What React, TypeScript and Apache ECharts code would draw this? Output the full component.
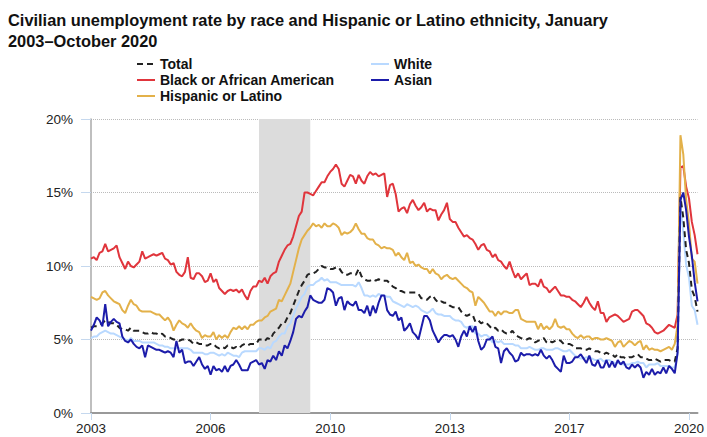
import React, { useEffect, useRef } from "react";
import * as echarts from "echarts";

// Monthly values, January 2003 – October 2020 (percent)
const total = [
  5.8, 5.9, 5.9, 6.0, 6.1, 6.3, 6.2, 6.1, 6.1, 6.0, 5.8, 5.7,
  5.7, 5.6, 5.8, 5.6, 5.6, 5.6, 5.5, 5.4, 5.4, 5.5, 5.4, 5.4,
  5.3, 5.4, 5.2, 5.2, 5.1, 5.0, 5.0, 4.9, 5.0, 5.0, 5.0, 4.9,
  4.7, 4.8, 4.7, 4.7, 4.6, 4.6, 4.7, 4.7, 4.5, 4.4, 4.5, 4.4,
  4.6, 4.5, 4.4, 4.5, 4.4, 4.6, 4.7, 4.6, 4.7, 4.7, 4.7, 5.0,
  5.0, 4.9, 5.1, 5.0, 5.4, 5.6, 5.8, 6.1, 6.1, 6.5, 6.8, 7.3,
  7.8, 8.3, 8.7, 9.0, 9.4, 9.5, 9.5, 9.6, 9.8, 10.0, 9.9, 9.9,
  9.8, 9.8, 9.9, 9.9, 9.6, 9.4, 9.4, 9.5, 9.5, 9.4, 9.8, 9.3,
  9.1, 9.0, 9.0, 9.1, 9.0, 9.1, 9.0, 9.0, 9.0, 8.8, 8.6, 8.5,
  8.3, 8.3, 8.2, 8.2, 8.2, 8.2, 8.2, 8.1, 7.8, 7.8, 7.7, 7.9,
  8.0, 7.7, 7.5, 7.6, 7.5, 7.5, 7.3, 7.2, 7.2, 7.2, 6.9, 6.7,
  6.6, 6.7, 6.7, 6.2, 6.3, 6.1, 6.2, 6.1, 5.9, 5.7, 5.8, 5.6,
  5.7, 5.5, 5.4, 5.4, 5.6, 5.3, 5.2, 5.1, 5.0, 5.0, 5.1, 5.0,
  4.8, 4.9, 5.0, 5.1, 4.8, 4.9, 4.8, 4.9, 5.0, 4.9, 4.7, 4.7,
  4.7, 4.6, 4.4, 4.4, 4.4, 4.3, 4.3, 4.4, 4.3, 4.2, 4.2, 4.1,
  4.0, 4.1, 4.0, 4.0, 3.8, 4.0, 3.8, 3.8, 3.7, 3.8, 3.8, 3.9,
  4.0, 3.8, 3.8, 3.7, 3.6, 3.6, 3.7, 3.6, 3.5, 3.6, 3.6, 3.6,
  3.5, 3.5, 4.4, 14.7, 13.3, 11.1, 10.2, 8.4, 7.9, 6.9,
];

const white = [
  5.1, 5.2, 5.2, 5.4, 5.5, 5.6, 5.5, 5.4, 5.4, 5.3, 5.2, 5.1,
  5.0, 4.9, 5.1, 4.9, 4.9, 4.9, 4.8, 4.8, 4.8, 4.8, 4.8, 4.7,
  4.6, 4.6, 4.5, 4.5, 4.4, 4.4, 4.4, 4.4, 4.4, 4.4, 4.4, 4.3,
  4.1, 4.1, 4.1, 4.1, 4.0, 4.0, 4.1, 4.1, 4.0, 3.9, 4.0, 3.9,
  4.1, 4.0, 3.9, 3.9, 3.8, 4.1, 4.2, 4.2, 4.2, 4.2, 4.2, 4.4,
  4.4, 4.3, 4.5, 4.4, 4.8, 4.9, 5.2, 5.4, 5.4, 5.9, 6.1, 6.6,
  7.1, 7.5, 7.9, 8.1, 8.6, 8.7, 8.7, 8.9, 9.0, 9.2, 9.0, 9.1,
  8.9, 8.9, 8.9, 8.8, 8.7, 8.7, 8.7, 8.7, 8.7, 8.6, 8.9, 8.5,
  8.0, 8.0, 7.9, 8.0, 7.9, 8.1, 8.0, 8.0, 7.9, 7.9, 7.6, 7.5,
  7.4, 7.3, 7.2, 7.4, 7.3, 7.2, 7.3, 7.2, 7.0, 6.9, 6.8, 6.9,
  7.1, 6.8, 6.7, 6.7, 6.6, 6.6, 6.6, 6.4, 6.3, 6.3, 6.2, 5.9,
  5.8, 5.9, 5.9, 5.4, 5.4, 5.2, 5.3, 5.3, 5.1, 4.8, 4.9, 4.8,
  4.9, 4.7, 4.7, 4.7, 4.7, 4.6, 4.6, 4.4, 4.4, 4.4, 4.5, 4.4,
  4.3, 4.3, 4.4, 4.4, 4.3, 4.3, 4.3, 4.4, 4.4, 4.3, 4.2, 4.2,
  4.3, 4.1, 3.9, 3.8, 3.7, 3.7, 3.8, 3.8, 3.7, 3.6, 3.6, 3.7,
  3.5, 3.6, 3.6, 3.5, 3.4, 3.4, 3.4, 3.3, 3.3, 3.3, 3.4, 3.4,
  3.5, 3.4, 3.4, 3.1, 3.3, 3.3, 3.3, 3.4, 3.2, 3.2, 3.2, 3.2,
  3.1, 3.1, 4.0, 14.1, 12.3, 10.1, 9.2, 7.3, 7.0, 6.0,
];

const black = [
  10.5, 10.6, 10.4, 10.9, 11.0, 11.5, 11.0, 11.1, 11.2, 11.4, 10.6, 10.2,
  9.8, 10.3, 10.0, 9.9, 10.1, 10.3, 11.0, 10.5, 10.6, 10.7, 10.8, 10.7,
  10.8, 10.9, 10.5, 10.4, 10.1, 10.2, 9.6, 9.4, 9.3, 9.6, 10.6, 9.2,
  9.1, 9.5, 9.5, 9.3, 8.9, 9.0, 9.5, 8.9, 9.1, 8.5, 8.3, 8.1,
  8.3, 8.4, 8.3, 8.4, 8.2, 8.4, 8.0, 7.7, 8.3, 8.6, 8.6, 9.0,
  8.9, 9.2, 8.8, 9.3, 9.5, 9.6, 10.3, 10.7, 11.1, 11.4, 11.5, 12.0,
  12.7, 13.4, 13.7, 15.0, 15.0, 14.9, 14.8, 15.1, 15.4, 15.7, 15.7, 16.1,
  16.4, 16.6, 16.9, 16.6, 15.6, 15.4, 15.8, 16.2, 16.1, 15.6, 16.2, 15.8,
  15.6, 16.1, 16.4, 16.2, 16.3, 16.1, 16.2, 16.3, 14.7, 15.5, 15.6, 14.9,
  13.7, 13.9, 14.0, 13.6, 14.2, 14.5, 14.1, 13.8, 14.0, 14.3, 13.7, 13.9,
  13.8, 13.8, 13.1, 13.5, 13.8, 14.3, 13.2, 13.0, 13.0, 12.6, 12.3, 12.0,
  12.1, 11.9, 11.8, 11.5, 11.1, 11.4, 11.5, 11.1, 11.0, 10.6, 10.8, 10.4,
  10.3, 10.0, 9.8, 10.3, 9.7, 9.2, 9.5, 9.1, 9.3, 9.5, 8.7, 8.8,
  8.8, 8.6, 9.1, 8.6, 8.5, 8.2, 8.4, 8.6, 8.3, 8.0, 8.0, 7.9,
  7.9, 7.7, 7.6, 7.4, 7.2, 7.5, 7.9, 7.5, 7.2, 7.0, 7.6, 6.8,
  6.8, 6.2, 6.5, 6.6, 6.7, 6.6, 6.4, 6.2, 6.3, 6.4, 6.9, 7.0,
  7.0, 6.8, 6.6, 6.1, 6.0, 5.8, 5.5, 5.4, 5.5, 5.6, 5.8, 6.0,
  5.9, 5.8, 6.7, 16.7, 16.8, 15.4, 14.6, 13.0, 12.1, 10.8,
];

const hispanic = [
  7.9, 7.8, 7.7, 7.8, 8.2, 8.3, 8.0, 7.8, 7.6, 7.5, 7.4, 7.0,
  6.8, 7.3, 7.7, 7.4, 7.3, 7.0, 6.9, 6.9, 6.9, 6.9, 6.8, 6.7,
  6.7, 6.5, 6.3, 6.5, 6.2, 5.6, 6.0, 6.3, 6.1, 6.0, 5.8, 6.1,
  5.8, 5.6, 5.5, 5.1, 5.3, 5.2, 5.2, 5.5, 5.0, 5.3, 5.1, 5.3,
  5.1, 5.5, 5.8, 5.7, 5.9, 5.7, 5.9, 5.7, 6.0, 6.0, 6.2, 6.3,
  6.3, 6.5, 6.6, 6.9, 7.0, 7.1, 7.7, 7.6, 8.0, 8.4, 8.8, 9.6,
  10.4, 11.2, 11.8, 12.1, 12.4, 12.6, 12.9, 12.7, 12.8, 12.6, 12.9, 12.7,
  12.7, 12.9, 12.8, 12.6, 12.1, 12.3, 12.2, 12.3, 12.5, 12.9, 12.5, 12.2,
  12.2, 11.9, 11.8, 11.8, 11.5, 11.4, 11.2, 11.3, 11.2, 11.2, 11.1, 10.7,
  10.9, 10.6, 10.4, 10.9, 10.2, 10.3, 10.0, 10.1, 9.9, 9.8, 9.8, 9.5,
  9.8, 9.5, 9.4, 9.1, 9.3, 9.4, 9.2, 9.1, 9.2, 9.0, 8.8, 8.6,
  8.5, 8.3, 8.2, 7.3, 7.9, 7.7, 7.5, 7.2, 6.9, 6.9, 6.6, 6.9,
  6.7, 6.9, 6.9, 6.8, 6.8, 7.0, 7.0, 6.4, 6.3, 6.2, 6.2, 6.2,
  6.2, 5.7, 6.1, 5.7, 5.9, 5.7, 5.9, 6.4, 5.9, 5.8, 5.9, 5.7,
  5.7, 5.4, 5.2, 5.1, 5.3, 5.1, 5.2, 5.2, 5.0, 5.1, 5.1, 5.0,
  5.0, 5.1, 5.0, 4.9, 4.5, 4.8, 4.9, 4.5, 4.7, 4.9, 4.8, 4.6,
  4.8, 4.9, 4.3, 4.6, 4.3, 4.4, 4.3, 4.3, 4.2, 4.3, 4.4, 4.5,
  4.3, 4.7, 6.0, 18.9, 17.6, 14.5, 12.9, 10.5, 10.3, 8.8,
];

const asian = [
  5.6, 6.0, 6.5, 6.3, 5.9, 7.4, 5.9, 6.2, 6.4, 6.2, 6.1, 5.2,
  4.9, 4.8, 5.0, 4.7, 4.5, 4.4, 4.6, 3.8, 4.6, 4.5, 4.4, 4.3,
  4.3, 4.2, 4.1, 4.2, 4.1, 3.8, 4.9, 4.1, 4.3, 3.4, 3.5, 3.5,
  3.2, 3.5, 3.8, 3.3, 3.0, 3.2, 2.6, 3.2, 2.9, 3.0, 2.8, 3.2,
  2.8, 3.2, 3.3, 3.6, 3.3, 2.9, 2.9, 2.9, 3.4, 3.5, 3.6, 3.3,
  3.4, 3.0, 3.6, 3.5, 3.9, 3.6, 4.2, 3.9, 4.6, 4.4, 4.9, 5.5,
  6.4, 6.6, 6.5, 6.9, 7.2, 8.0, 7.7, 7.6, 7.5, 7.5, 7.7, 8.5,
  8.4, 8.2, 7.3, 7.8, 7.9, 7.0, 7.6, 7.4, 7.3, 7.6, 7.0, 7.0,
  6.8, 7.3, 6.6, 7.3, 6.8, 7.5, 8.0, 8.0, 7.0, 6.7, 6.6, 6.9,
  6.3, 6.5, 5.6, 5.8, 6.1, 5.5, 5.3, 5.0, 5.8, 6.6, 6.6, 6.3,
  5.6, 5.2, 4.8, 5.1, 5.3, 5.3, 5.2, 5.3, 5.0, 4.5, 5.2, 5.6,
  5.2, 5.9, 5.5, 5.9, 4.9, 4.3, 4.5, 5.0, 5.0, 5.2, 4.5, 4.4,
  3.4, 4.2, 4.4, 4.1, 3.9, 3.5, 3.6, 4.1, 3.9, 4.0, 4.0, 3.9,
  4.0, 3.9, 4.3, 3.9, 3.7, 3.9, 3.6, 3.2, 3.0, 2.8, 3.9, 3.4,
  3.4, 3.5, 3.8, 3.8, 4.0, 3.7, 3.4, 3.9, 3.3, 3.2, 3.6, 3.1,
  3.1, 3.6, 3.1, 3.5, 3.1, 3.6, 3.3, 3.5, 3.1, 3.0, 3.3, 3.1,
  3.3, 3.1, 2.4, 2.8, 2.6, 3.0, 2.6, 2.8, 2.7, 3.1, 2.7, 3.2,
  3.0, 2.7, 4.1, 14.5, 15.0, 13.8, 12.0, 10.7, 8.9, 7.6,
];

const firstYear = 2003;
const monthCount = 214;
const recession = ["2007-12", "2009-06"];
const yTicks = [0, 5, 10, 15, 20];

const categories: string[] = [];
for (let i = 0; i < monthCount; i++) {
  const y = firstYear + Math.floor(i / 12);
  const m = (i % 12) + 1;
  categories.push(`${y}-${m < 10 ? "0" + m : m}`);
}

const FONT = "'Liberation Sans', Arial, Helvetica, sans-serif";

export default function App() {
  const ref = useRef<HTMLDivElement>(null);
  useEffect(() => {
    document.body.style.margin = "0";
    const chart = echarts.init(ref.current!, undefined, { renderer: "svg" });
    const tickEvery = (idx: number) => idx % 42 === 0;
    const line = (name: string, data: number[], color: string, dash?: number[]) => ({
      name,
      type: "line",
      data,
      symbol: "none",
      showSymbol: false,
      z: 3,
      lineStyle: dash ? { color, width: 2, type: dash } : { color, width: 2 },
      itemStyle: { color },
    });
    const legendText = { fontSize: 14, fontWeight: "bold", color: "#111", lineHeight: 16, fontFamily: FONT };
    chart.setOption({
      animation: false,
      textStyle: { fontFamily: FONT },
      title: {
        text: "Civilian unemployment rate by race and Hispanic or Latino ethnicity, January\n2003–October 2020",
        left: 8,
        top: 9,
        padding: 0,
        textStyle: { fontSize: 16.4, fontWeight: "bold", color: "#111", lineHeight: 21, fontFamily: FONT },
      },
      legend: [
        {
          orient: "vertical",
          left: 136,
          top: 56,
          padding: 0,
          itemWidth: 18,
          itemHeight: 14,
          itemGap: 0,
          itemStyle: { opacity: 0 },
          data: ["Total", "Black or African American", "Hispanic or Latino"],
          textStyle: legendText,
        },
        {
          orient: "vertical",
          left: 370,
          top: 56,
          padding: 0,
          itemWidth: 18,
          itemHeight: 14,
          itemGap: 0,
          itemStyle: { opacity: 0 },
          data: ["White", "Asian"],
          textStyle: legendText,
        },
      ],
      grid: { left: 91, right: 7, top: 119, bottom: 24, containLabel: false },
      xAxis: {
        type: "category",
        data: categories,
        boundaryGap: false,
        axisLine: { lineStyle: { color: "#999", width: 2 } },
        axisTick: { interval: tickEvery, length: 7, lineStyle: { color: "#c5d8ee" } },
        axisLabel: {
          interval: tickEvery,
          formatter: (v: string) => v.slice(0, 4),
          color: "#222",
          fontSize: 13.5,
          margin: 8,
          fontFamily: FONT,
        },
        splitLine: { show: false },
      },
      yAxis: {
        type: "value",
        min: yTicks[0],
        max: yTicks[yTicks.length - 1],
        interval: 5,
        axisLine: { show: true, lineStyle: { color: "#aaa", width: 1.5 } },
        axisTick: { show: true, length: 10, lineStyle: { color: "#c5d8ee" } },
        axisLabel: { formatter: "{value}%", color: "#222", fontSize: 13.5, margin: 18, fontFamily: FONT },
        splitLine: { lineStyle: { type: "dotted", color: "#bbb" } },
      },
      series: [
        {
          name: "recession",
          type: "line",
          data: [],
          z: 1,
          silent: true,
          markArea: {
            silent: true,
            itemStyle: { color: "#dcdcdc" },
            data: [[{ xAxis: recession[0] }, { xAxis: recession[1] }]],
          },
        },
        line("Black or African American", black, "#e0353c"),
        line("Hispanic or Latino", hispanic, "#e3b14a"),
        line("White", white, "#b9d9ff"),
        line("Total", total, "#222222", [6, 4]),
        line("Asian", asian, "#1c1caa"),
      ],
    });
    return () => chart.dispose();
  }, []);
  return <div ref={ref} style={{ width: 707, height: 437 }} />;
}
